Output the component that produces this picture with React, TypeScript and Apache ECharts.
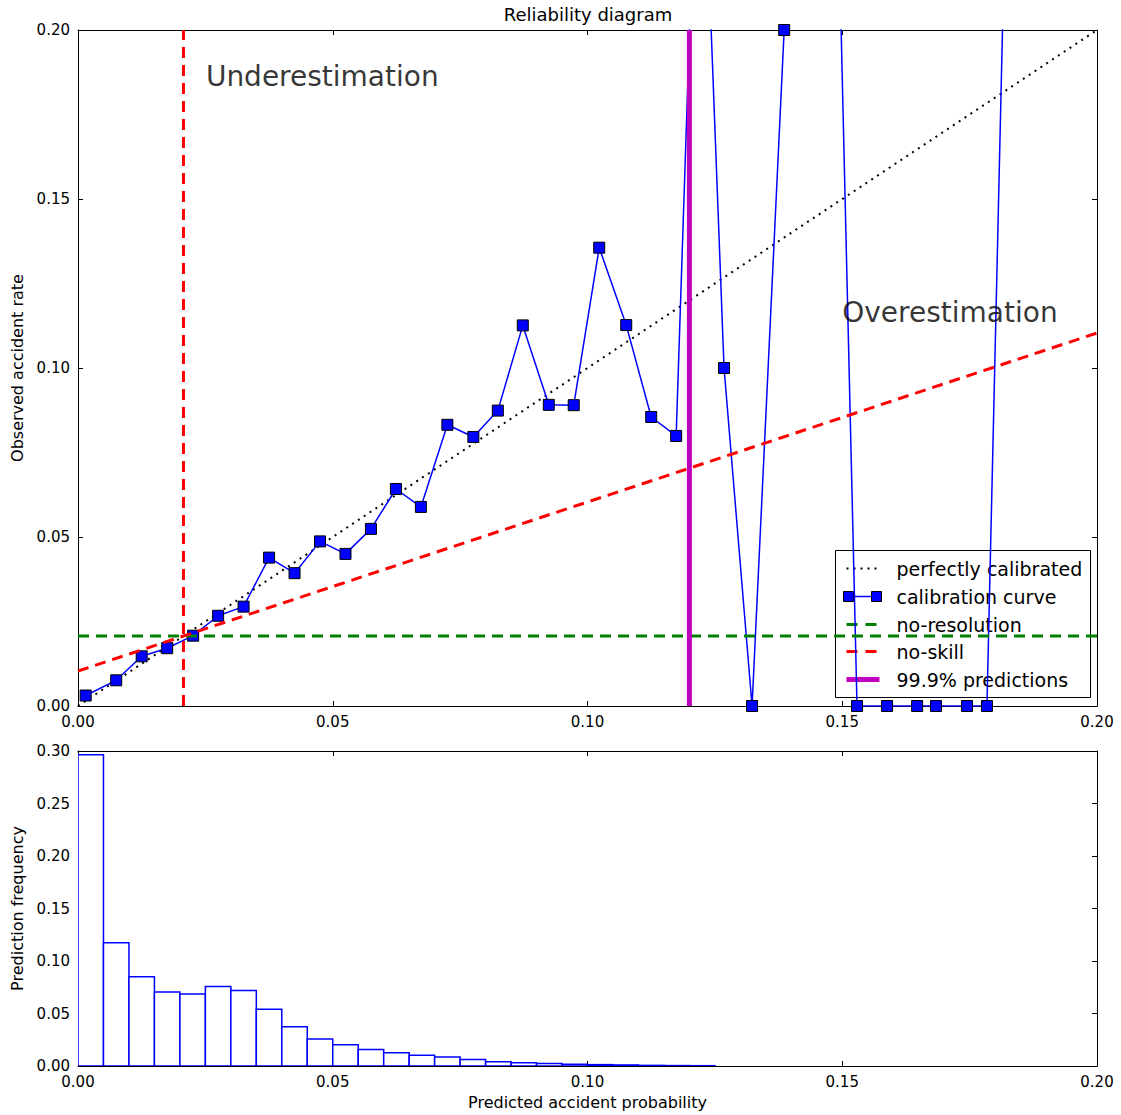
import React, { useEffect, useRef } from "react";
import * as echarts from "echarts";

// ---- Data ----
const calibX = [0.0015, 0.0075, 0.0125, 0.0175, 0.0226, 0.0275, 0.0325, 0.0375, 0.0425, 0.0475, 0.0525, 0.0575, 0.0624, 0.0673, 0.0725, 0.0776, 0.0824, 0.0873, 0.0924, 0.0973, 0.1023, 0.1076, 0.1125, 0.1174, 0.1220, 0.1268, 0.1323, 0.1386, 0.1425, 0.1529, 0.1588, 0.1647, 0.1684, 0.1745, 0.1784, 0.1845];
const calibY = [0.0031, 0.0076, 0.0147, 0.0171, 0.0208, 0.0267, 0.0294, 0.0439, 0.0393, 0.0487, 0.0450, 0.0524, 0.0642, 0.0589, 0.0832, 0.0796, 0.0874, 0.1126, 0.0891, 0.0890, 0.1356, 0.1127, 0.0855, 0.0799, 0.2900, 0.1000, 0.0000, 0.2000, 0.6670, 0.0000, 0.0000, 0.0000, 0.0000, 0.0000, 0.0000, 0.4000];

const baseRate = 0.0207;
const predictionCutoff = 0.12; // 99.9% predictions
const perfectX = [0, 0.2];
const perfectY = [0, 0.2];
const noSkillY = [0.01035, 0.11035];

const histBinStart = [0, 0.005, 0.01, 0.015, 0.02, 0.025, 0.03, 0.035, 0.04, 0.045, 0.05, 0.055, 0.06, 0.065, 0.07, 0.075, 0.08, 0.085, 0.09, 0.095, 0.1, 0.105, 0.11, 0.115, 0.12];
const histFreq = [0.2965, 0.1175, 0.0851, 0.0705, 0.0686, 0.0756, 0.0718, 0.0540, 0.0375, 0.0257, 0.0203, 0.0156, 0.0127, 0.0102, 0.0086, 0.0062, 0.0041, 0.0032, 0.0025, 0.0016, 0.0013, 0.0010, 0.0006, 0.0004, 0.0003];
const binWidth = 0.005;

const topTicks = [0, 0.05, 0.1, 0.15, 0.2];
const histTicks = [0, 0.05, 0.1, 0.15, 0.2, 0.25, 0.3];

const annotations = [
  { x: 0.0251, y: 0.1861, text: "Underestimation" },
  { x: 0.1500, y: 0.1163, text: "Overestimation" },
];

const FONT = "DejaVu Sans";

function axisCommon(min: number, max: number, interval: number, position: string, showLabels: boolean, gridIndex: number, extra: any = {}) {
  return {
    gridIndex,
    type: "value",
    min,
    max,
    interval,
    position,
    axisLine: { show: true, onZero: false, lineStyle: { color: "#000", width: 1 } },
    axisTick: { show: true, inside: true, length: 5, lineStyle: { color: "#000", width: 1 } },
    axisLabel: {
      show: showLabels,
      color: "#000",
      fontFamily: FONT,
      fontSize: 15,
      formatter: (v: number) => v.toFixed(2),
      ...(extra.axisLabel || {}),
    },
    splitLine: { show: false },
    ...extra.rest,
  };
}

export default function App() {
  const ref = useRef<HTMLDivElement>(null);
  useEffect(() => {
    if (!ref.current) return;
    const chart = echarts.init(ref.current, undefined, { renderer: "svg" });
    const tmax = topTicks[topTicks.length - 1];
    const hmax = histTicks[histTicks.length - 1];

    const legendRows = [18, 46, 74, 101, 129];
    const legendLabels = ["perfectly calibrated", "calibration curve", "no-resolution", "no-skill", "99.9% predictions"];

    const legendChildren: any[] = [
      { type: "rect", shape: { x: 0, y: 0, width: 255, height: 147 }, style: { fill: "#fff", stroke: "#000", lineWidth: 1 } },
      { type: "line", shape: { x1: 11, y1: legendRows[0], x2: 44, y2: legendRows[0] }, style: { stroke: "#000", lineWidth: 2, lineDash: [2, 5] } },
      { type: "line", shape: { x1: 13, y1: legendRows[1], x2: 41, y2: legendRows[1] }, style: { stroke: "#0000ff", lineWidth: 1.5 } },
      { type: "rect", shape: { x: 8, y: legendRows[1] - 5, width: 10, height: 10 }, style: { fill: "#0000ff", stroke: "#000", lineWidth: 1 } },
      { type: "rect", shape: { x: 36, y: legendRows[1] - 5, width: 10, height: 10 }, style: { fill: "#0000ff", stroke: "#000", lineWidth: 1 } },
      { type: "line", shape: { x1: 11, y1: legendRows[2], x2: 44, y2: legendRows[2] }, style: { stroke: "#008000", lineWidth: 3, lineDash: [11, 8] } },
      { type: "line", shape: { x1: 11, y1: legendRows[3], x2: 44, y2: legendRows[3] }, style: { stroke: "#ff0000", lineWidth: 3, lineDash: [11, 8] } },
      { type: "line", shape: { x1: 11, y1: legendRows[4], x2: 44, y2: legendRows[4] }, style: { stroke: "#bf00bf", lineWidth: 5 } },
    ];
    legendLabels.forEach((t, i) => {
      legendChildren.push({
        type: "text",
        x: 61,
        y: legendRows[i],
        style: { text: t, fill: "#000", font: `19px "${FONT}"`, textVerticalAlign: "middle", textAlign: "left" },
      });
    });

    const option: any = {
      animation: false,
      backgroundColor: "#fff",
      title: {
        text: "Reliability diagram",
        left: 588,
        top: 5,
        textAlign: "center",
        padding: 0,
        textStyle: { fontFamily: FONT, fontSize: 18, fontWeight: "normal", color: "#000" },
      },
      grid: [
        { left: 78, top: 30, width: 1019, height: 676, show: false },
        { left: 78, top: 751, width: 1019, height: 315, show: false },
      ],
      xAxis: [
        axisCommon(0, tmax, 0.05, "bottom", true, 0, { axisLabel: { margin: 8 } }),
        axisCommon(0, tmax, 0.05, "top", false, 0),
        axisCommon(0, tmax, 0.05, "bottom", true, 1, {
          axisLabel: { margin: 8 },
          rest: {
            name: "Predicted accident probability",
            nameLocation: "middle",
            nameGap: 28,
            nameTextStyle: { fontFamily: FONT, fontSize: 16, color: "#000" },
          },
        }),
        axisCommon(0, tmax, 0.05, "top", false, 1),
      ],
      yAxis: [
        axisCommon(0, tmax, 0.05, "left", true, 0, {
          axisLabel: { margin: 8 },
          rest: {
            name: "Observed accident rate",
            nameLocation: "middle",
            nameGap: 49,
            nameRotate: 90,
            nameTextStyle: { fontFamily: FONT, fontSize: 16, color: "#000" },
          },
        }),
        axisCommon(0, tmax, 0.05, "right", false, 0),
        axisCommon(0, hmax, 0.05, "left", true, 1, {
          axisLabel: { margin: 8 },
          rest: {
            name: "Prediction frequency",
            nameLocation: "middle",
            nameGap: 49,
            nameRotate: 90,
            nameTextStyle: { fontFamily: FONT, fontSize: 16, color: "#000" },
          },
        }),
        axisCommon(0, hmax, 0.05, "right", false, 1),
      ],
      series: [
        {
          name: "perfectly calibrated",
          type: "line",
          xAxisIndex: 0,
          yAxisIndex: 0,
          data: perfectX.map((x, i) => [x, perfectY[i]]),
          showSymbol: false,
          symbol: "none",
          lineStyle: { color: "#000", width: 2, type: [2, 5] },
          z: 2,
        },
        {
          name: "calibration curve",
          type: "line",
          xAxisIndex: 0,
          yAxisIndex: 0,
          clip: true,
          data: calibX.map((x, i) => [x, calibY[i]]),
          symbol: "rect",
          symbolSize: 11,
          lineStyle: { color: "#0000ff", width: 1.5 },
          itemStyle: { color: "#0000ff", borderColor: "#000", borderWidth: 1 },
          z: 3,
        },
        {
          name: "no-resolution",
          type: "line",
          xAxisIndex: 0,
          yAxisIndex: 0,
          data: [[0, baseRate], [tmax, baseRate]],
          symbol: "none",
          lineStyle: { color: "#008000", width: 3, type: [11, 7] },
          z: 4,
        },
        {
          name: "no-skill",
          type: "line",
          xAxisIndex: 0,
          yAxisIndex: 0,
          data: [[0, noSkillY[0]], [tmax, noSkillY[1]]],
          symbol: "none",
          lineStyle: { color: "#ff0000", width: 3, type: [11, 7] },
          z: 4,
        },
        {
          name: "base rate",
          type: "line",
          xAxisIndex: 0,
          yAxisIndex: 0,
          data: [[baseRate, 0], [baseRate, tmax]],
          symbol: "none",
          lineStyle: { color: "#ff0000", width: 3, type: [11, 7] },
          z: 4,
        },
        {
          name: "99.9% predictions",
          type: "line",
          xAxisIndex: 0,
          yAxisIndex: 0,
          data: [[predictionCutoff, 0], [predictionCutoff, tmax]],
          symbol: "none",
          lineStyle: { color: "#bf00bf", width: 5 },
          z: 5,
        },
        {
          name: "annotations",
          type: "scatter",
          xAxisIndex: 0,
          yAxisIndex: 0,
          symbolSize: 0,
          data: annotations.map((a) => ({ value: [a.x, a.y], label: { formatter: a.text } })),
          label: {
            show: true,
            position: [0, 0],
            align: "left",
            verticalAlign: "middle",
            fontFamily: FONT,
            fontSize: 28,
            color: "#000",
          },
          silent: true,
          z: 6,
        },
        {
          name: "histogram",
          type: "custom",
          xAxisIndex: 2,
          yAxisIndex: 2,
          clip: true,
          data: histBinStart.map((s, i) => [s, s + binWidth, histFreq[i]]),
          encode: { x: [0, 1], y: 2 },
          renderItem: (params: any, api: any) => {
            const p0 = api.coord([api.value(0), api.value(2)]);
            const p1 = api.coord([api.value(1), 0]);
            return {
              type: "rect",
              shape: { x: p0[0], y: p0[1], width: p1[0] - p0[0], height: p1[1] - p0[1] },
              style: { fill: "#fff", stroke: "#0000ff", lineWidth: 1.5 },
            };
          },
          z: 2,
        },
      ],
      graphic: [
        { type: "group", left: 835, top: 550, z: 100, children: legendChildren },
      ],
    };
    chart.setOption(option);
    return () => chart.dispose();
  }, []);
  return <div ref={ref} style={{ position: "absolute", left: 0, top: 0, width: 1121, height: 1115 }} />;
}
